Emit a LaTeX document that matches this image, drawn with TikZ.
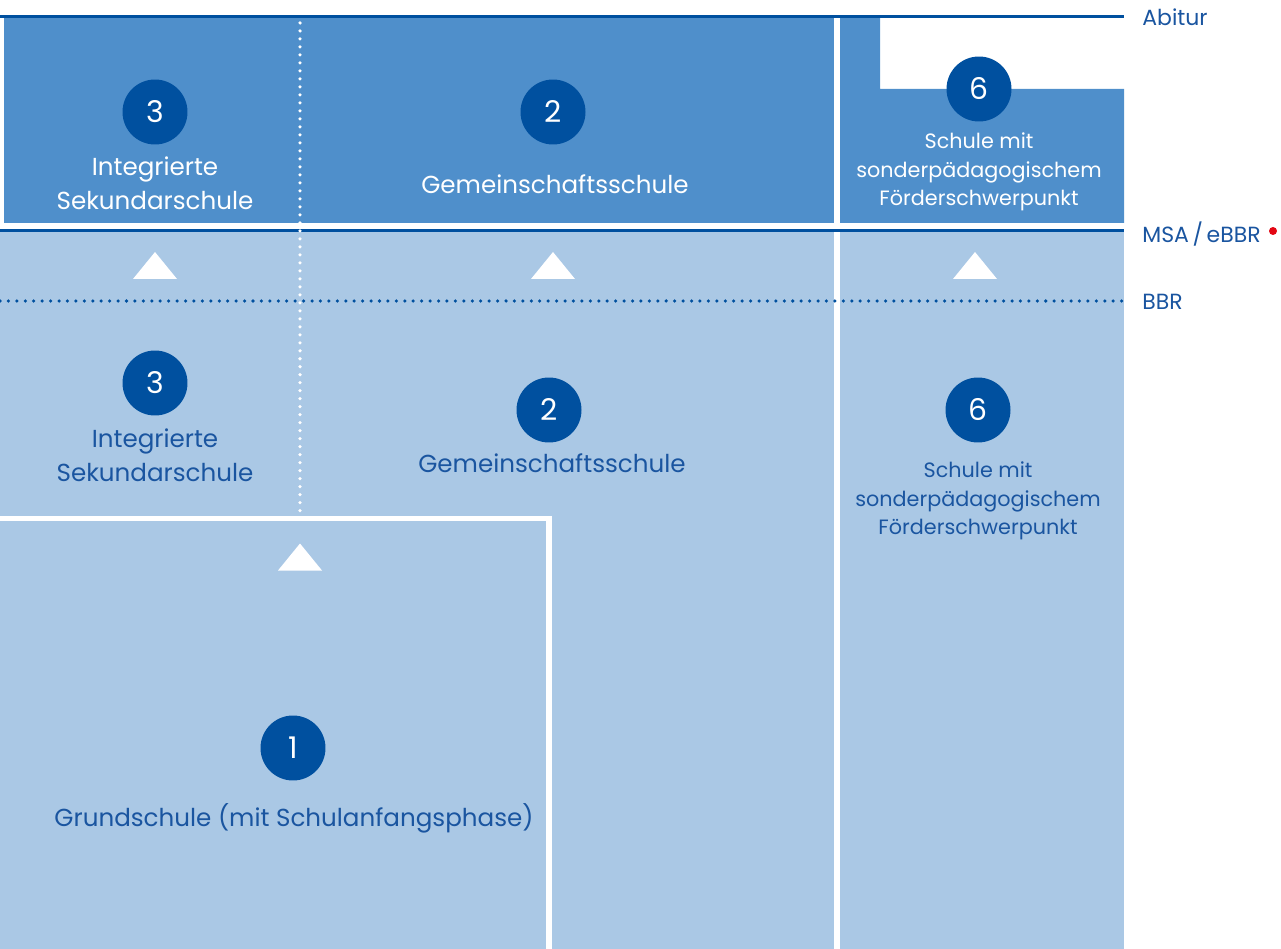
\documentclass[tikz,border=0pt]{standalone}
\usepackage{fontspec}
\setmainfont{Poppins}
\usetikzlibrary{positioning}
\definecolor{midblue}{HTML}{4F8FCB}
\definecolor{paleblue}{HTML}{AAC8E5}
\definecolor{navy}{HTML}{00509F}
\definecolor{inkblue}{HTML}{1A55A0}
\definecolor{dotred}{HTML}{E30613}

\begin{document}
\begin{tikzpicture}[
  x=0.02cm, y=-0.02cm,
  num/.style={circle, fill=navy, text=white, minimum size=1.3cm, inner sep=0pt, font=\fontsize{17}{20}\selectfont},
  lbl/.style={align=center, inner sep=0pt, font=\fontsize{14}{19.3}\selectfont},
  smalllbl/.style={align=center, inner sep=0pt, font=\fontsize{11.8}{16.2}\selectfont},
  exam/.style={anchor=base west, text=inkblue, inner sep=0pt, font=\fontsize{12.5}{16}\selectfont},
  level/.style={draw=navy, line width=1.2pt},
  dots/.style={line width=2pt, line cap=round, dash pattern=on 0pt off 4.8pt},
  tri/.pic={\fill[white] (-22,13.5) -- (22,13.5) -- (0,-13.5) -- cycle;}
]
  \useasboundingbox (0,0) rectangle (1281,949);
  % fields
  \fill[paleblue] (0,231) rectangle (1124,949);
  \fill[midblue] (4,18) rectangle (834,223);
  \fill[midblue] (840,18) -- (880,18) -- (880,89) -- (1124,89) -- (1124,223) -- (840,223) -- cycle;
  \fill[white] (834,231) rectangle (840,949);
  % levels
  \draw[level] (0,16.5) -- (1124,16.5);
  \draw[level] (0,230.5) -- (1124,230.5);
  \draw[dots, navy] (0,301) -- (1124,301);
  \draw[dots, white, dash pattern=on 0pt off 4.55pt] (300,23) -- (300,514);
  \draw[white, line width=3.1pt] (0,518.5) -- (549,518.5) -- (549,949);
  % transitions
  \foreach \tx/\ty in {155/265.5, 553/265.5, 975/265.5, 300/557}
    \pic at (\tx,\ty) {tri};
  % upper level
  \node[num] (iss2) at (155,112) {3};
  \node[lbl, text=white] (iss2t) at (155,183) {Integrierte\\Sekundarschule};
  \node[num] (gem2) at (553,112) {2};
  \node[lbl, text=white] (gem2t) at (555,184) {Gemeinschaftsschule};
  \node[num] (sfs2) at (979,89) {6};
  \node[smalllbl, text=white] (sfs2t) at (979,172) {Schule mit\\sonderpädagogischem\\Förderschwerpunkt};
  % lower level
  \node[num] (iss1) at (155,383) {3};
  \node[lbl, text=inkblue] (iss1t) at (155,455) {Integrierte\\Sekundarschule};
  \node[num] (gem1) at (549,410) {2};
  \node[lbl, text=inkblue] (gem1t) at (552,463) {Gemeinschaftsschule};
  \node[num] (sfs1) at (978,410) {6};
  \node[smalllbl, text=inkblue] (sfs1t) at (978,501) {Schule mit\\sonderpädagogischem\\Förderschwerpunkt};
  \node[num] (gs) at (293,748) {1};
  \node[lbl, text=inkblue] (gst) at (294,818) {Grundschule (mit Schulanfangsphase)};
  % exams
  \node[exam] (abi) at (1142,26) {Abitur};
  \node[exam] (msa) at (1142,243) {MSA\,/\,eBBR};
  \node[exam] (bbr) at (1142,310) {BBR};
  \fill[dotred] (1273,231) circle (4);
\end{tikzpicture}
\end{document}
